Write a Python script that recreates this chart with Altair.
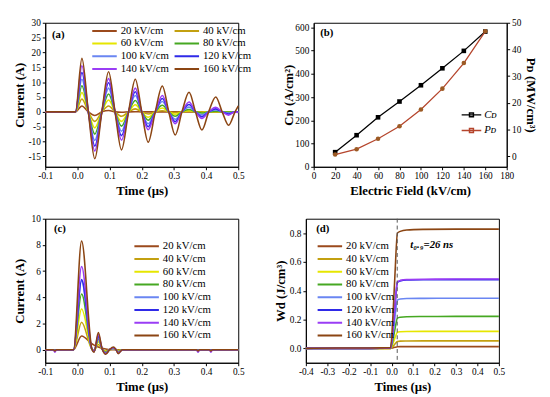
import altair as alt
import pandas as pd

FONT = "Liberation Serif"
LABELS = ["20 kV/cm", "40 kV/cm", "60 kV/cm", "80 kV/cm",
          "100 kV/cm", "120 kV/cm", "140 kV/cm", "160 kV/cm"]
COLORS = ["#9B4A1C", "#C3A010", "#E6E600", "#46A822",
          "#6A86F2", "#2F2AE8", "#9A3DF5", "#8B4513"]

# ---------------- panel (a): current waveforms ----------------
TA = [-0.1, -0.02, -0.006, 0.014, 0.034, 0.054, 0.076, 0.097, 0.117, 0.137,
      0.159, 0.18, 0.2, 0.22, 0.242, 0.264, 0.284, 0.304, 0.325, 0.347,
      0.367, 0.387, 0.408, 0.43, 0.45, 0.47, 0.49, 0.5]
A20 = [0, 0, 0, 2.0, 0, -1.2, 0, 0.45, 0, -0.15, 0, 0.05, 0, 0, 0, 0, 0, 0, 0, 0, 0, 0, 0, 0, 0, 0, 0, 0]
A40 = [0, 0, 0, 4.3, 0, -3.2, 0, 2.0, 0, -1.5, 0, 1.0, 0, -0.7, 0, 0.4, 0, -0.25, 0, 0.1, 0, -0.05, 0, 0, 0, 0, 0, 0]
A60 = [0, 0, 0, 6.5, 0, -5.4, 0, 4.0, 0, -3.2, 0, 2.4, 0, -1.8, 0, 1.3, 0, -0.8, 0, 0.4, 0, -0.2, 0, 0.1, 0, 0, 0, 0]
A80 = [0, 0, 0, 8.8, 0, -7.5, 0, 6.0, 0, -4.8, 0, 3.8, 0, -2.8, 0, 2.2, 0, -1.5, 0, 0.8, 0, -0.4, 0, 0.2, 0, -0.1, 0, 0]
A100 = [0, 0, 0, 11.0, 0, -9.6, 0, 8.0, 0, -6.5, 0, 5.5, 0, -4.0, 0, 3.5, 0, -2.5, 0, 1.6, 0, -1.0, 0, 0.6, 0, -0.4, 0, 0]
A120 = [0, 0, 0, 13.2, 0, -11.5, 0, 9.8, 0, -8.0, 0, 6.8, 0, -5.0, 0, 4.5, 0, -3.3, 0, 2.5, 0, -1.6, 0, 1.0, 0, -0.7, 0, 0]
A140 = [0, 0, 0, 15.5, 0, -13.2, 0, 11.2, 0, -9.5, 0, 8.0, 0, -6.0, 0, 5.5, 0, -4.0, 0, 3.3, 0, -2.2, 0, 1.5, 0, -1.1, 0, -0.2]
A160 = [0, 0, 0, 18.0, 0, -15.8, 0, 13.5, 0, -12.8, 0, 11.0, 0, -10.2, 0, 8.7, 0, -7.8, 0, 6.6, 0, -6.1, 0, 5.0, 0, -4.5, 0, 2.0]

# ---------------- panel (b): current / power density ----------------
FIELD = [20, 40, 60, 80, 100, 120, 140, 160]
CD = [63, 136, 213, 281, 351, 424, 499, 582]
PD = [0.6, 2.6, 6.5, 11.2, 17.5, 25.3, 34.9, 46.8]

# ---------------- panel (c): current pulses ----------------
TC = [-0.1, -0.075, -0.07, -0.065, -0.012, 0.013, 0.045, 0.052, 0.065, 0.077,
      0.088, 0.1, 0.112, 0.12, 0.127, 0.14, 0.37, 0.375, 0.38, 0.41, 0.415, 0.42, 0.5]
C20 = [0, 0, 0, 0, 0, 1.05, 0.45, 0.35, 0.2, 0.1, 0.05, 0, 0, 0, 0, 0, 0, 0, 0, 0, 0, 0, 0]
C40 = [0, 0, 0, 0, 0, 2.1, 0.05, -0.05, 0.4, 0.05, -0.1, 0, 0.05, 0, -0.05, 0, 0, 0, 0, 0, 0, 0, 0]
C60 = [0, 0, 0, 0, 0, 3.1, 0.05, -0.08, 0.6, 0.05, -0.15, 0, 0.05, 0, -0.1, 0, 0, 0, 0, 0, 0, 0, 0]
C80 = [0, 0, -0.05, 0, 0, 4.25, 0.05, -0.1, 0.8, 0.05, -0.2, 0, 0.1, 0, -0.15, 0, 0, -0.05, 0, 0, 0, 0, 0]
C100 = [0, 0, -0.1, 0, 0, 5.25, 0.05, -0.1, 0.9, 0.05, -0.25, 0, 0.1, 0, -0.2, 0, 0, -0.1, 0, 0, -0.05, 0, 0]
C120 = [0, 0, -0.1, 0, 0, 5.35, 0.05, -0.12, 1.0, 0.05, -0.3, 0, 0.15, 0, -0.25, 0, 0, -0.15, 0, 0, -0.1, 0, 0]
C140 = [0, 0, -0.2, 0, 0, 6.35, 0.05, -0.15, 1.15, 0.05, -0.3, 0, 0.15, 0, -0.25, 0, 0, -0.2, 0, 0, -0.2, 0, 0]
C160 = [0, 0, -0.1, 0, 0, 8.3, 0.05, -0.2, 1.3, 0.05, -0.35, 0, 0.2, 0, -0.3, 0, 0, -0.1, 0, 0, -0.1, 0, 0]

# ---------------- panel (d): discharged energy density ----------------
TD = [-0.4, -0.25, -0.1, -0.005, 0.005, 0.015, 0.027, 0.04, 0.07, 0.15, 0.3, 0.5]
D20 = [0, 0, 0, 0, 0.003, 0.007, 0.011, 0.012, 0.012, 0.012, 0.012, 0.012]
D40 = [0, 0, 0, 0, 0.012, 0.03, 0.048, 0.05, 0.051, 0.052, 0.052, 0.052]
D60 = [0, 0, 0, 0, 0.03, 0.07, 0.112, 0.115, 0.117, 0.118, 0.118, 0.118]
D80 = [0, 0, 0, 0.001, 0.05, 0.13, 0.21, 0.216, 0.22, 0.221, 0.222, 0.222]
D100 = [0, 0, 0, 0.001, 0.08, 0.21, 0.335, 0.342, 0.346, 0.347, 0.348, 0.348]
D120 = [0, 0, 0, 0.002, 0.11, 0.285, 0.458, 0.468, 0.474, 0.476, 0.477, 0.477]
D140 = [0, 0, 0, 0.002, 0.11, 0.29, 0.462, 0.472, 0.478, 0.48, 0.481, 0.481]
D160 = [0, 0.002, 0.002, 0.005, 0.2, 0.5, 0.80, 0.812, 0.822, 0.826, 0.828, 0.828]
T09 = [0.026]

W, H = 197, 147


def long_df(times, series):
    rows = []
    for k, (lab, vals) in enumerate(zip(LABELS, series)):
        for t, v in zip(times, vals):
            rows.append({"t": t, "v": v, "s": lab, "k": k})
    return pd.DataFrame(rows)


def lab_expr(fmt):
    return ("datum.value < 0 ? '-' + format(-datum.value, '%s') : format(datum.value, '%s')"
            % (fmt, fmt))


def yaxis(title, values, fmt, orient="left", ext=17):
    return alt.Axis(title=title, values=values, labelExpr=lab_expr(fmt), orient=orient,
                    minExtent=ext, maxExtent=ext, titlePadding=2, labelOverlap=False,
                    labelFlush=False)


def xaxis(title, values, fmt):
    return alt.Axis(title=title, values=values, labelExpr=lab_expr(fmt),
                    labelPadding=1, titlePadding=5, labelOverlap=False, labelFlush=False)


def series_legend(x, y, columns=1):
    kw = {}
    if columns > 1:
        kw["columns"] = columns
        kw["direction"] = "horizontal"
    return alt.Legend(orient="none", legendX=x, legendY=y, title=None,
                      symbolType="stroke", symbolSize=625, symbolStrokeWidth=2,
                      clipHeight=12.3, rowPadding=0, columnPadding=4,
                      labelFont=FONT, labelFontSize=11, labelOffset=3,
                      labelColor="black", padding=0, **kw)


color_scale = alt.Scale(domain=LABELS, range=COLORS)


def tag(x, y, text, X, Y):
    return alt.Chart(pd.DataFrame({"t": [x], "v": [y], "txt": [text]})).mark_text(
        font=FONT, fontSize=11, fontWeight="bold", align="left", color="black"
    ).encode(x=X, y=Y, text="txt:N")


TX = [-0.1, 0.0, 0.1, 0.2, 0.3, 0.4, 0.5]

# (a)
df_a = long_df(TA, [A20, A40, A60, A80, A100, A120, A140, A160])
ax_x = alt.X("t:Q", scale=alt.Scale(domain=[-0.1, 0.5], nice=False),
             axis=xaxis("Time (µs)", TX, ".1f"))
ax_y = alt.Y("v:Q", scale=alt.Scale(domain=[-18.5, 30], nice=False, zero=False),
             axis=yaxis("Current (A)", [-15, -10, -5, 0, 5, 10, 15, 20, 25, 30], "d"))
ch_a = alt.layer(
    alt.Chart(df_a).mark_line(interpolate="monotone", strokeWidth=1.6).encode(
        x=ax_x, y=ax_y,
        color=alt.Color("s:N", scale=color_scale, legend=series_legend(47, 2, 2)),
        order="k:Q",
    ),
    tag(-0.079, 26, "(a)", ax_x, ax_y),
).properties(width=W, height=H)

# (b)
df_cd = pd.DataFrame({"E": FIELD, "val": CD, "s": "Cᴅ"})
df_pd = pd.DataFrame({"E": FIELD, "val": PD, "s": "Pᴅ"})
b_color = alt.Scale(domain=["Cᴅ", "Pᴅ"], range=["#000000", "#B5452C"])
b_legend = alt.Legend(orient="none", legendX=150, legendY=86, title=None,
                      symbolType="M-1,0L1,0M-0.2,-0.2L0.2,-0.2L0.2,0.2L-0.2,0.2Z",
                      symbolSize=400, symbolStrokeWidth=1.5, clipHeight=16,
                      rowPadding=0, labelFont=FONT, labelFontSize=11,
                      labelFontStyle="italic", labelOffset=2, labelColor="black", padding=0)
bx = alt.X("E:Q", scale=alt.Scale(domain=[0, 180], nice=False),
           axis=xaxis("Electric Field (kV/cm)", list(range(0, 181, 20)), "d"))
y_left = alt.Y("val:Q", scale=alt.Scale(domain=[0, 620], nice=False),
               axis=yaxis("Cᴅ (A/cm²)", [0, 100, 200, 300, 400, 500, 600], "d"))
y_right = alt.Y("val:Q", scale=alt.Scale(domain=[-4, 50], nice=False, zero=False),
                axis=yaxis("Pᴅ (MW/cm³)", [0, 10, 20, 30, 40, 50], "d", orient="right", ext=15))
left_b = alt.layer(
    alt.Chart(df_cd).mark_line(strokeWidth=1.3).encode(
        x=bx, y=y_left, color=alt.Color("s:N", scale=b_color, legend=b_legend)),
    alt.Chart(df_cd).mark_point(filled=True, shape="square", size=22, color="black",
                                opacity=1).encode(x=bx, y=y_left),
    alt.Chart(pd.DataFrame({"E": [6], "val": [575], "txt": ["(b)"]})).mark_text(
        font=FONT, fontSize=11, fontWeight="bold", align="left", color="black"
    ).encode(x=bx, y=y_left, text="txt:N"),
)
right_b = alt.layer(
    alt.Chart(df_pd).mark_line(strokeWidth=1.3).encode(
        x=bx, y=y_right, color=alt.Color("s:N", scale=b_color, legend=b_legend)),
    alt.Chart(df_pd).mark_point(filled=True, shape="circle", size=22, color="#9C5A24",
                                opacity=1).encode(x=bx, y=y_right),
)
ch_b = alt.layer(left_b, right_b).resolve_scale(y="independent").properties(width=W, height=H)

# (c)
df_c = long_df(TC, [C20, C40, C60, C80, C100, C120, C140, C160])
cx = alt.X("t:Q", scale=alt.Scale(domain=[-0.1, 0.5], nice=False),
           axis=xaxis("Time (µs)", TX, ".1f"))
cy = alt.Y("v:Q", scale=alt.Scale(domain=[-1, 10], nice=False, zero=False),
           axis=yaxis("Current (A)", [0, 2, 4, 6, 8, 10], "d"))
ch_c = alt.layer(
    alt.Chart(df_c).mark_line(interpolate="monotone", strokeWidth=1.6).encode(
        x=cx, y=cy,
        color=alt.Color("s:N", scale=color_scale, legend=series_legend(90, 22)),
        order="k:Q",
    ),
    tag(-0.073, 9.24, "(c)", cx, cy),
).properties(width=W, height=H)

# (d)
df_d = long_df(TD, [D20, D40, D60, D80, D100, D120, D140, D160])
dx = alt.X("t:Q", scale=alt.Scale(domain=[-0.4, 0.5], nice=False),
           axis=xaxis("Times (µs)", [-0.4, -0.3, -0.2, -0.1, 0.0, 0.1, 0.2, 0.3, 0.4, 0.5], ".1f"))
dy = alt.Y("v:Q", scale=alt.Scale(domain=[-0.1, 0.9], nice=False, zero=False),
           axis=yaxis("Wd (J/cm³)", [0.0, 0.2, 0.4, 0.6, 0.8], ".1f"))
ch_d = alt.layer(
    alt.Chart(df_d).mark_line(interpolate="monotone", strokeWidth=1.6).encode(
        x=dx, y=dy,
        color=alt.Color("s:N", scale=color_scale, legend=series_legend(11, 22)),
        order="k:Q",
    ),
    alt.Chart(pd.DataFrame({"t": T09})).mark_rule(
        color="#555555", strokeDash=[4, 3], strokeWidth=1).encode(x=dx),
    alt.Chart(pd.DataFrame({"t": [0.087], "v": [0.715], "txt": ["t₀.₉=26 ns"]})).mark_text(
        font=FONT, fontSize=11, fontWeight="bold", fontStyle="italic", align="left", color="black"
    ).encode(x=dx, y=dy, text="txt:N"),
    tag(-0.352, 0.827, "(d)", dx, dy),
).properties(width=W, height=H)

row1 = alt.hconcat(ch_a, ch_b, spacing=29).resolve_scale(color="independent").resolve_legend(color="independent")
row2 = alt.hconcat(ch_c, ch_d, spacing=29).resolve_scale(color="independent").resolve_legend(color="independent")
chart = alt.vconcat(row1, row2, spacing=15).resolve_scale(
    color="independent").resolve_legend(color="independent").configure_view(
    stroke="black", strokeWidth=1).configure_axis(
    labelFont=FONT, labelFontSize=9.5, labelColor="black",
    titleFont=FONT, titleFontSize=13, titleFontWeight="bold", titleColor="black",
    domainColor="black", tickColor="black", tickSize=3, grid=False,
)

chart.save("out.html", embed_options={"renderer": "svg", "actions": False})
